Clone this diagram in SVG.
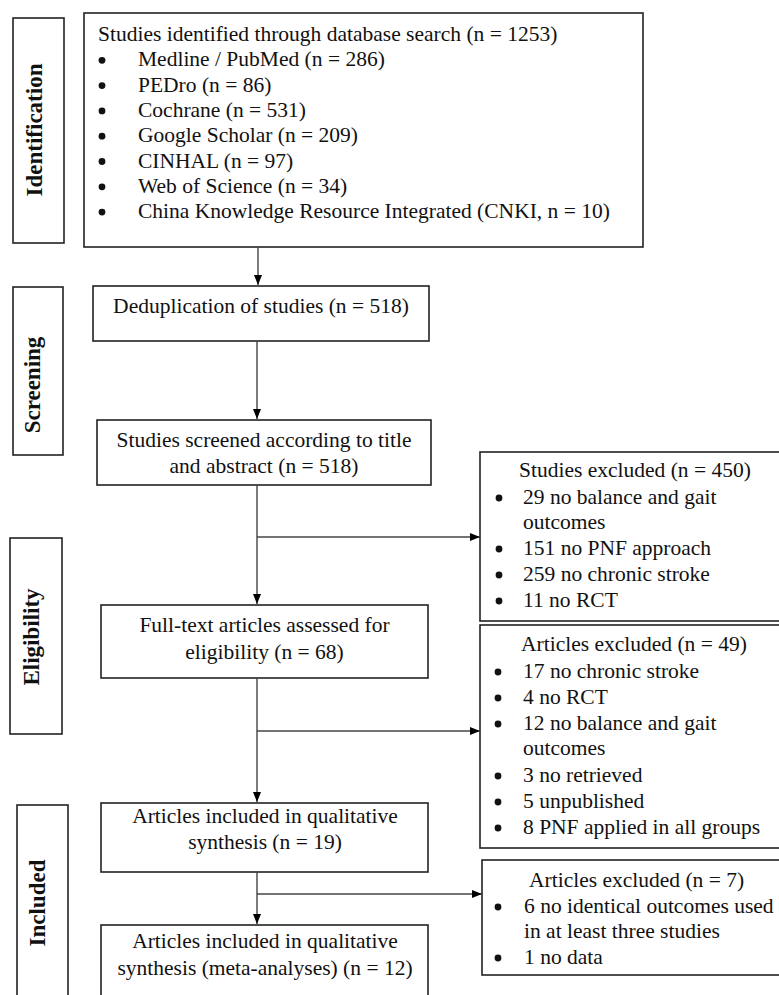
<svg xmlns="http://www.w3.org/2000/svg" width="779" height="995" viewBox="0 0 779 995">
<style>
.box{fill:#fff;stroke:#222;stroke-width:1.6}
.t{font-family:"Liberation Serif","Times New Roman",serif;font-size:21.5px;fill:#111}
.c{text-anchor:middle}
.side{font-family:"Liberation Serif","Times New Roman",serif;font-size:23px;font-weight:bold;fill:#111;text-anchor:middle}
.ln{stroke:#444;stroke-width:1.4;fill:none}
.b{fill:#111}
</style>
<defs>
<marker id="ah" markerWidth="10" markerHeight="10" refX="10" refY="5" orient="auto" markerUnits="userSpaceOnUse" viewBox="0 0 10 10">
<path d="M0,1 L10,5 L0,9 Z" fill="#000"/>
</marker>
</defs>
<rect width="779" height="995" fill="#fff"/>

<g id="phase-identification">
<rect class="box" x="13" y="18" width="51" height="225"/>
<text class="side" transform="translate(42,130) rotate(-90)">Identification</text>
</g>
<g id="phase-screening">
<rect class="box" x="13" y="287" width="50" height="168"/>
<text class="side" transform="translate(40,385) rotate(-90)">Screening</text>
</g>
<g id="phase-eligibility">
<rect class="box" x="10" y="538" width="52" height="196"/>
<text class="side" transform="translate(39,637) rotate(-90)">Eligibility</text>
</g>
<g id="phase-included">
<rect class="box" x="17" y="805" width="51" height="200"/>
<text class="side" transform="translate(45,903) rotate(-90)">Included</text>
</g>

<g id="identified">
<rect class="box" x="84" y="13" width="559" height="234"/>
<text class="t" x="98" y="41">Studies identified through database search (n = 1253)</text>
<g class="b">
<circle cx="102" cy="60.3" r="3.4"/>
<circle cx="102" cy="85.6" r="3.4"/>
<circle cx="102" cy="110.9" r="3.4"/>
<circle cx="102" cy="136.2" r="3.4"/>
<circle cx="102" cy="161.5" r="3.4"/>
<circle cx="102" cy="186.8" r="3.4"/>
<circle cx="102" cy="212.1" r="3.4"/>
</g>
<g class="t">
<text x="138" y="66.3">Medline / PubMed (n = 286)</text>
<text x="138" y="91.6">PEDro (n = 86)</text>
<text x="138" y="116.9">Cochrane (n = 531)</text>
<text x="138" y="142.2">Google Scholar (n = 209)</text>
<text x="138" y="167.5">CINHAL (n = 97)</text>
<text x="138" y="192.8">Web of Science (n = 34)</text>
<text x="138" y="218.1">China Knowledge Resource Integrated (CNKI, n = 10)</text>
</g>
</g>

<g id="dedup">
<rect class="box" x="93" y="286" width="336" height="55"/>
<text class="t c" x="261" y="313">Deduplication of studies (n = 518)</text>
</g>

<g id="screened">
<rect class="box" x="97" y="420" width="334" height="65"/>
<text class="t c" x="264" y="447">Studies screened according to title</text>
<text class="t c" x="264" y="473">and abstract (n = 518)</text>
</g>

<g id="fulltext">
<rect class="box" x="101" y="605" width="327" height="73"/>
<text class="t c" x="264.5" y="632">Full-text articles assessed for</text>
<text class="t c" x="264.5" y="659">eligibility (n = 68)</text>
</g>

<g id="qualitative">
<rect class="box" x="101" y="803" width="327" height="69"/>
<text class="t c" x="265" y="823">Articles included in qualitative</text>
<text class="t c" x="265" y="849">synthesis (n = 19)</text>
</g>

<g id="meta">
<rect class="box" x="101" y="925" width="327" height="80"/>
<text class="t c" x="265" y="948">Articles included in qualitative</text>
<text class="t c" x="265" y="975">synthesis (meta-analyses) (n = 12)</text>
</g>

<g id="excluded-450">
<rect class="box" x="480" y="452" width="310" height="169"/>
<g class="b">
<circle cx="499" cy="498" r="3.4"/>
<circle cx="499" cy="549" r="3.4"/>
<circle cx="499" cy="575" r="3.4"/>
<circle cx="499" cy="601" r="3.4"/>
</g>
<g class="t">
<text x="519" y="477">Studies excluded (n = 450)</text>
<text x="523" y="504">29 no balance and gait</text>
<text x="523" y="529">outcomes</text>
<text x="523" y="555">151 no PNF approach</text>
<text x="523" y="581">259 no chronic stroke</text>
<text x="523" y="607">11 no RCT</text>
</g>
</g>

<g id="excluded-49">
<rect class="box" x="480" y="625" width="310" height="223"/>
<g class="b">
<circle cx="498" cy="672" r="3.4"/>
<circle cx="498" cy="698" r="3.4"/>
<circle cx="498" cy="724" r="3.4"/>
<circle cx="498" cy="776" r="3.4"/>
<circle cx="498" cy="802" r="3.4"/>
<circle cx="498" cy="828" r="3.4"/>
</g>
<g class="t">
<text x="521" y="651">Articles excluded (n = 49)</text>
<text x="523" y="678">17 no chronic stroke</text>
<text x="523" y="704">4 no RCT</text>
<text x="523" y="730">12 no balance and gait</text>
<text x="523" y="755">outcomes</text>
<text x="523" y="782">3 no retrieved</text>
<text x="523" y="808">5 unpublished</text>
<text x="523" y="834">8 PNF applied in all groups</text>
</g>
</g>

<g id="excluded-7">
<rect class="box" x="482" y="860" width="310" height="115"/>
<g class="b">
<circle cx="498" cy="907" r="3.4"/>
<circle cx="498" cy="958" r="3.4"/>
</g>
<g class="t">
<text x="529" y="887">Articles excluded (n = 7)</text>
<text x="524" y="913">6 no identical outcomes used</text>
<text x="524" y="938">in at least three studies</text>
<text x="524" y="964">1 no data</text>
</g>
</g>

<g id="connectors">
<line class="ln" x1="258" y1="247" x2="258" y2="285" marker-end="url(#ah)"/>
<line class="ln" x1="257" y1="341" x2="257" y2="419" marker-end="url(#ah)"/>
<line class="ln" x1="257" y1="485" x2="257" y2="604" marker-end="url(#ah)"/>
<line class="ln" x1="257" y1="537" x2="480" y2="537" marker-end="url(#ah)"/>
<line class="ln" x1="257" y1="678" x2="257" y2="802" marker-end="url(#ah)"/>
<line class="ln" x1="257" y1="731" x2="480" y2="731" marker-end="url(#ah)"/>
<line class="ln" x1="257" y1="872" x2="257" y2="924" marker-end="url(#ah)"/>
<line class="ln" x1="257" y1="894" x2="482" y2="894" marker-end="url(#ah)"/>
</g>
</svg>
